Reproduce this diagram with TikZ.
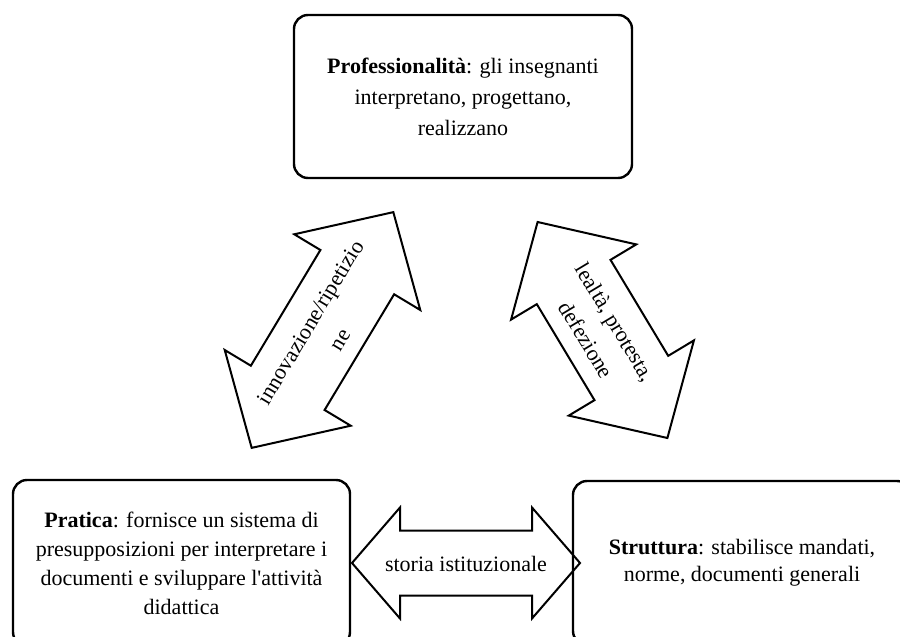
\documentclass[tikz,border=0pt]{standalone}
\usepackage{fontspec}
\setmainfont{Liberation Serif}
\newcommand\blockarr[7]{% cx, cy, angle, length, head length, head width, shaft width
  \begin{scope}[shift={(#1,#2)}, rotate=#3]
    \draw[arr] ({#4/2},0) -- ({#4/2-#5},{#6/2}) -- ({#4/2-#5},{#7/2})
      -- ({-#4/2+#5},{#7/2}) -- ({-#4/2+#5},{#6/2}) -- ({-#4/2},0)
      -- ({-#4/2+#5},{-#6/2}) -- ({-#4/2+#5},{-#7/2})
      -- ({#4/2-#5},{-#7/2}) -- ({#4/2-#5},{-#6/2}) -- cycle;
  \end{scope}}
\begin{document}
\begin{tikzpicture}[x=1pt,y=-1pt,
  box/.style={draw, line width=2.4pt, rounded corners=14pt, align=center, inner sep=0pt},
  arr/.style={draw, line width=2pt, line join=miter},
  lbl/.style={align=center, inner sep=0pt, font=\fontsize{22}{34}\selectfont}]
\useasboundingbox (0,0) rectangle (900,637);
\clip (0,0) rectangle (900,637);
\fill[white] (0,0) rectangle (900,637);

% boxes
\node[box, minimum width=338pt, minimum height=163pt, font=\fontsize{22}{31}\selectfont] (prof) at (463,96.5)
  {\textbf{Professionalità}: gli insegnanti\\interpretano, progettano,\\realizzano};
\node[box, minimum width=337pt, minimum height=166pt, font=\fontsize{22}{29}\selectfont] (prat) at (181.5,563)
  {\textbf{Pratica}: fornisce un sistema di\\presupposizioni per interpretare i\\documenti e sviluppare l\textquotesingle attività\\didattica};
\node[box, minimum width=338pt, minimum height=164pt, font=\fontsize{22}{27}\selectfont] (strut) at (742,563)
  {\textbf{Struttura}: stabilisce mandati,\\norme, documenti generali};

% block arrows
\blockarr{322.5}{330}{59}{275}{70}{147}{86}
\blockarr{602.5}{330}{-59}{252}{70}{146}{86}
\blockarr{466}{563}{0}{228}{48}{111}{65}

% arrow labels
\node[lbl, rotate=59] (innov) at (325,331) {innovazione/ripetizio\\ne};
\node[lbl, rotate=-59] (leal) at (601,331) {lealtà, protesta,\\defezione};
\node[lbl] (storia) at (466,564) {storia istituzionale};
\end{tikzpicture}
\end{document}
